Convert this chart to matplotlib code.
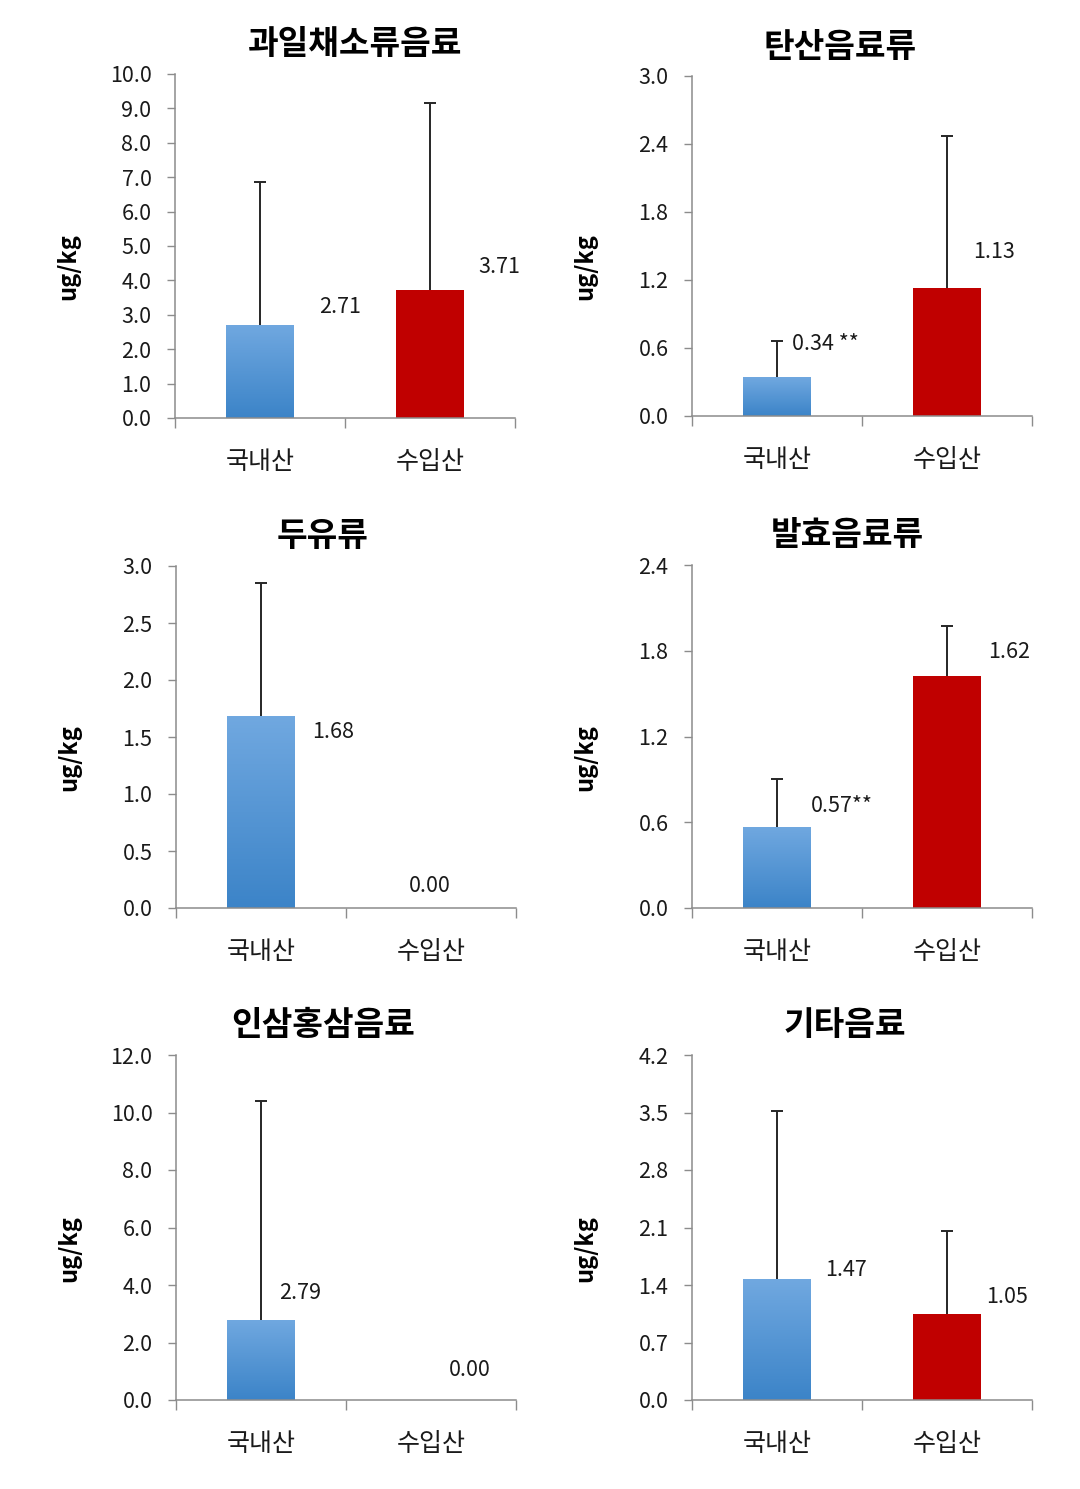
import numpy as np
import matplotlib
matplotlib.use('Agg')
from matplotlib import pyplot as plt

plt.rcParams['font.family'] = ['Noto Sans CJK KR', 'DejaVu Sans']

categories = ['국내산', '수입산']
titles = ['과일채소류음료', '탄산음료류', '두유류', '발효음료류', '인삼홍삼음료', '기타음료']
domestic_mean = [2.71, 0.34, 1.68, 0.57, 2.79, 1.47]
imported_mean = [3.71, 1.13, 0.00, 1.62, 0.00, 1.05]
domestic_sd = [4.14, 0.32, 1.17, 0.33, 7.61, 2.05]
imported_sd = [5.44, 1.34, 0.00, 0.35, 0.00, 1.01]
domestic_label = ['2.71', '0.34 **', '1.68', '0.57**', '2.79', '1.47']
imported_label = ['3.71', '1.13', '0.00', '1.62', '0.00', '1.05']
y_max = [10.0, 3.0, 3.0, 2.4, 12.0, 4.2]
y_step = [1.0, 0.6, 0.5, 0.6, 2.0, 0.7]

W, H = 1080, 1489
# axes boxes in pixels: left, top, right, bottom
rects = [(175, 74, 515, 418), (692, 76, 1032, 416),
         (176, 566, 516, 908), (692, 565, 1032, 908),
         (176, 1055, 516, 1400), (692, 1055, 1032, 1400)]
title_x = [0.529, 0.435, 0.432, 0.456, 0.432, 0.45]
# label offsets (pixels) from bar top centre
off_dom = [(80, 18), (48, 33), (72, -16), (65, 21), (39, 27), (69, 9)]
off_imp = [(69, 23), (47, 36), (-1, 22), (62, 24), (39, 30), (60, 17)]

blue_top = np.array([112, 168, 224]) / 255
blue_bot = np.array([60, 132, 200]) / 255
grad = np.linspace(0, 1, 64)[:, None, None]
blue_img = blue_top * (1 - grad) + blue_bot * grad  # row 0 = top
red = '#C00000'
axis_col = '#8C8C8C'
txt_col = '#1a1a1a'

fig = plt.figure(figsize=(W / 100, H / 100), dpi=100)

for i in range(6):
    l, t, r, b = rects[i]
    ax = fig.add_axes([l / W, 1 - b / H, (r - l) / W, (b - t) / H])
    x = np.arange(len(categories))
    vals = [domestic_mean[i], imported_mean[i]]
    sds = [domestic_sd[i], imported_sd[i]]

    bars = ax.bar(x, vals, width=0.4, color=[blue_bot, red], zorder=2)
    # gradient fill for domestic bar
    bb = bars[0]
    im = ax.imshow(blue_img, extent=[bb.get_x(), bb.get_x() + bb.get_width(), 0, bb.get_height()],
                   aspect='auto', origin='upper', zorder=2.5)
    im.set_clip_path(bb)

    for j in range(2):
        if sds[j] > 0:
            eb = ax.errorbar(x[j], vals[j], yerr=[[0], [sds[j]]], fmt='none', ecolor='#262626',
                             elinewidth=1.4, capsize=4, capthick=1.4, zorder=3)
            # only the upper cap is shown
            for cap in eb[1]:
                if np.isclose(cap.get_ydata()[0], vals[j]):
                    cap.set_visible(False)

    labs = [domestic_label[i], imported_label[i]]
    offs = [off_dom[i], off_imp[i]]
    for j in range(2):
        ax.annotate(labs[j], xy=(x[j], vals[j]), xytext=offs[j], textcoords='offset pixels',
                    ha='center', va='center', fontsize=15.5, color=txt_col)

    ax.set_xlim(-0.5, 1.5)
    ax.set_ylim(0, y_max[i])
    ticks = np.arange(0, y_max[i] + y_step[i] / 2, y_step[i])
    ax.set_yticks(ticks)
    ax.set_yticklabels(['%.1f' % v for v in ticks])
    ax.set_xticks(x)
    ax.set_xticklabels(categories)
    ax.set_xticks([-0.5, 0.5, 1.5], minor=True)
    ax.tick_params(axis='x', which='major', length=0, pad=22, labelsize=18, labelcolor=txt_col)
    ax.tick_params(axis='x', which='minor', length=7, width=1, color=axis_col, direction='out')
    ax.tick_params(axis='y', length=6, width=1, color=axis_col, pad=11, labelsize=15.5, labelcolor=txt_col)

    for s in ['top', 'right']:
        ax.spines[s].set_visible(False)
    for s in ['left', 'bottom']:
        ax.spines[s].set_color(axis_col)
        ax.spines[s].set_linewidth(1.1)

    ax.set_ylabel('ug/kg', fontsize=17, fontweight='bold', color='black')
    ax.yaxis.set_label_coords(-0.28, 0.44)
    ax.text(title_x[i], 1.085, titles[i], transform=ax.transAxes, ha='center', va='center',
            fontsize=24, fontweight='heavy', color='black')

fig.savefig('out.png', dpi=100)
